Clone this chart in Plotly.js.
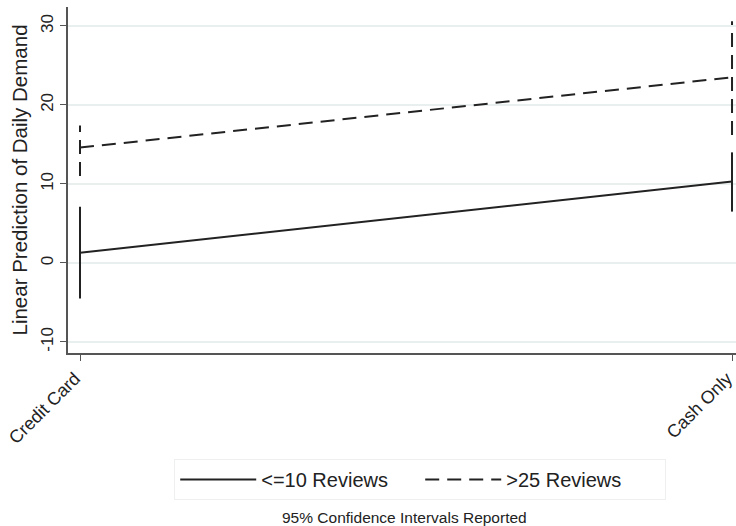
<!DOCTYPE html>
<html>
<head>
<meta charset="utf-8">
<script src="https://cdn.plot.ly/plotly-3.0.1.min.js"></script>
<style>html,body{margin:0;padding:0;background:#fff;}#chart{width:736px;height:526px;}</style>
</head>
<body>
<div id="chart"></div>
<script>
// Data
const categories = ["Credit Card", "Cash Only"];
const lowReviews = [1.3, 10.3];
const lowReviewsLo = [-4.5, 6.5];
const lowReviewsHi = [7.1, 14.0];
const highReviews = [14.6, 23.5];
const highReviewsLo = [11.0, 16.2];
const highReviewsHi = [17.4, 30.6];
const seriesNames = ["<=10 Reviews", ">25 Reviews"];
const yTicks = [-10, 0, 10, 20, 30];
const yTickLabels = ["-10", "0", "10", "20", "30"];

const lineColor = "#222";
const dashStyle = "14px,8px";
const traces = [];

function ciTraces(lo, hi, dash) {
  categories.forEach((c, i) => {
    traces.push({
      x: [c, c], y: [lo[i], hi[i]], mode: "lines", showlegend: false, hoverinfo: "skip",
      line: {color: lineColor, width: 2, dash: dash}
    });
  });
}
ciTraces(lowReviewsLo, lowReviewsHi, "solid");
ciTraces(highReviewsLo, highReviewsHi, dashStyle);

traces.push({x: categories, y: lowReviews, mode: "lines", name: seriesNames[0],
  line: {color: lineColor, width: 2, dash: "solid"}});
traces.push({x: categories, y: highReviews, mode: "lines", name: seriesNames[1],
  line: {color: lineColor, width: 2, dash: dashStyle}});

const layout = {
  width: 736, height: 526,
  margin: {l: 68, r: 0, t: 7, b: 173},
  paper_bgcolor: "#fff", plot_bgcolor: "#fff",
  font: {family: "Liberation Sans, Arial, sans-serif", color: "#222", size: 15},
  showlegend: true,
  xaxis: {
    type: "category", range: [-0.0184, 1.0061],
    showgrid: false, zeroline: false,
    showline: true, linecolor: "#555", linewidth: 2,
    ticks: "outside", ticklen: 6, tickcolor: "#555",
    tickangle: -45, tickfont: {size: 18}, ticklabelshift: -5
  },
  yaxis: {
    range: [-11.4, 32.4], tickvals: yTicks, ticktext: yTickLabels,
    showgrid: true, gridcolor: "#e9eeee", gridwidth: 1.5, zeroline: false,
    showline: true, linecolor: "#555", linewidth: 2,
    ticks: "outside", ticklen: 6, tickcolor: "#555",
    tickangle: -90, tickfont: {size: 17},
    title: {text: "Linear Prediction of Daily Demand", font: {size: 20.5}, standoff: 5}
  },
  legend: {
    orientation: "h", x: 0.159, y: -0.306, xanchor: "left", yanchor: "top",
    bordercolor: "#eef0f0", borderwidth: 1, font: {size: 20},
    itemwidth: 76, entrywidth: 154
  },
  annotations: [{
    text: "95% Confidence Intervals Reported", xref: "paper", yref: "paper",
    x: 0.503, y: -0.474, xanchor: "center", yanchor: "middle",
    showarrow: false, font: {size: 15.5, color: "#222"}
  }]
};

Plotly.newPlot("chart", traces, layout, {displayModeBar: false, staticPlot: true});
</script>
</body>
</html>
